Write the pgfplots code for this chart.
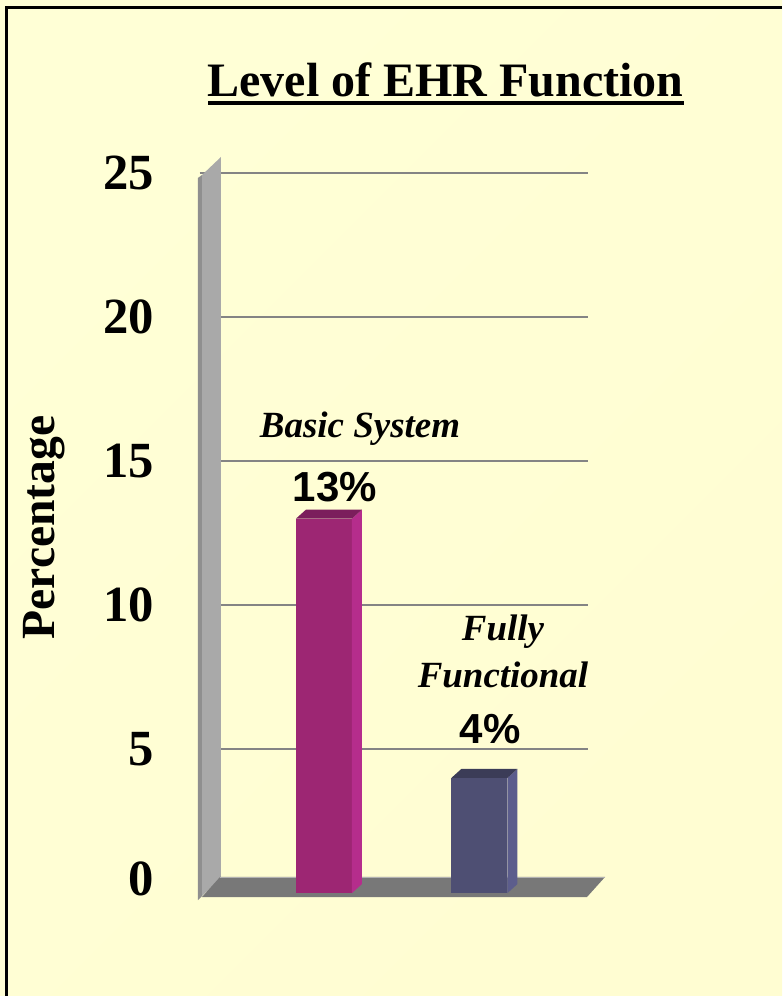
\documentclass[border=0pt]{standalone}
\usepackage{fontspec}
\setmainfont{Liberation Serif}
\newfontfamily\arialb{Liberation Sans}
\usepackage{pgfplots}
\pgfplotsset{compat=1.18}

\definecolor{magfront}{HTML}{9D2673}
\definecolor{magside}{HTML}{B52D8C}
\definecolor{magtop}{HTML}{7B1E5C}
\definecolor{navfront}{HTML}{4E4F73}
\definecolor{navside}{HTML}{5C5D8C}
\definecolor{navtop}{HTML}{3B3C57}
\definecolor{walllight}{HTML}{A9A9A9}
\definecolor{walldark}{HTML}{8F8F8F}
\definecolor{floorgray}{HTML}{787878}
\definecolor{gridgray}{HTML}{848484}

\begin{document}
\begin{tikzpicture}
% background, in pixel units (origin top left)
\begin{scope}[x=0.75pt,y=-0.75pt]
  \useasboundingbox (0,0) rectangle (782,996);
  \shade[top color={rgb,255:red,255;green,255;blue,214},
         middle color={rgb,255:red,255;green,255;blue,232},
         bottom color={rgb,255:red,255;green,253;blue,210},
         shading angle=45] (0,0) rectangle (782,996);
  \draw[line width=2.25pt] (6.5,996) -- (6.5,7.5) -- (782,7.5);
\end{scope}

\begin{axis}[
    at={(149.7pt,-669.75pt)}, anchor=south west,
    width=291.56pt, height=540pt, scale only axis,
    xmin=0.2, xmax=2.7, ymin=0, ymax=25,
    clip=false,
    axis line style={draw=none},
    xtick=\empty,
    ytick={5,10,15,20,25},
    extra y ticks={0.5},
    extra y tick labels={0},
    extra y tick style={grid=none},
    major tick length=0pt,
    ymajorgrids=true,
    grid style={color=gridgray, line width=2pt},
    /pgf/number format/assume math mode=true,
    yticklabel style={font=\fontsize{38}{38}\selectfont\bfseries,
                      anchor=east, inner sep=0pt, xshift=-34pt},
]
  % 3D wall and floor
  \fill[walllight] (axis cs:0.2154,24.93) -- (axis cs:0.3376,25.556)
        -- (axis cs:0.3376,0.521) -- (axis cs:0.2154,-0.104) -- cycle;
  \fill[walldark] (axis cs:0.1897,24.83) -- (axis cs:0.2154,24.93)
        -- (axis cs:0.2154,-0.104) -- (axis cs:0.1897,-0.243) -- cycle;
  \fill[floorgray] (axis cs:0.2154,-0.139) -- (axis cs:0.3312,0.556)
        -- (axis cs:2.8071,0.556) -- (axis cs:2.6913,-0.139) -- cycle;
  \draw[line width=0.6pt, color=gray!60] (axis cs:0.3312,0.556) -- (axis cs:2.8071,0.556);

  % Basic System
  \addplot[ybar, bar width=42pt, bar shift=0pt, fill=magfront, draw=none]
    coordinates {(1,13)};
  \fill[magside] (axis cs:1.18,0) -- (axis cs:1.2443,0.3125)
        -- (axis cs:1.2443,13.3125) -- (axis cs:1.18,13) -- cycle;
  \fill[magtop] (axis cs:0.82,13) -- (axis cs:1.18,13)
        -- (axis cs:1.2443,13.3125) -- (axis cs:0.8843,13.3125) -- cycle;

  % Fully Functional
  \addplot[ybar, bar width=42pt, bar shift=0pt, fill=navfront, draw=none]
    coordinates {(2,4)};
  \fill[navside] (axis cs:2.18,0) -- (axis cs:2.2443,0.3125)
        -- (axis cs:2.2443,4.3125) -- (axis cs:2.18,4) -- cycle;
  \fill[navtop] (axis cs:1.82,4) -- (axis cs:2.18,4)
        -- (axis cs:2.2443,4.3125) -- (axis cs:1.8843,4.3125) -- cycle;
\end{axis}

% texts, in pixel units
\begin{scope}[x=0.75pt,y=-0.75pt]
  \node[anchor=base, inner sep=0pt, font=\fontsize{36}{36}\selectfont\bfseries]
    at (445.5,96) {Level of EHR Function};
  \draw[line width=3pt] (208,103) -- (684,103);
  \node[anchor=base, rotate=90, inner sep=0pt, font=\fontsize{35.7}{36}\selectfont\bfseries]
    at (54,527.5) {Percentage};
  \node[anchor=base, inner sep=0pt, font=\fontsize{27.7}{28}\selectfont\bfseries\itshape]
    at (360,437) {Basic System};
  \node[anchor=base, inner sep=0pt, font=\fontsize{31.5}{32}\selectfont\arialb\bfseries]
    at (335,501) {13\%};
  \node[anchor=base, inner sep=0pt, font=\fontsize{27.7}{28}\selectfont\bfseries\itshape]
    at (503,640) {Fully};
  \node[anchor=base, inner sep=0pt, font=\fontsize{27.7}{28}\selectfont\bfseries\itshape]
    at (503,687) {Functional};
  \node[anchor=base, inner sep=0pt, font=\fontsize{31.5}{32}\selectfont\arialb\bfseries]
    at (490,743) {4\%};
\end{scope}
\end{tikzpicture}
\end{document}
